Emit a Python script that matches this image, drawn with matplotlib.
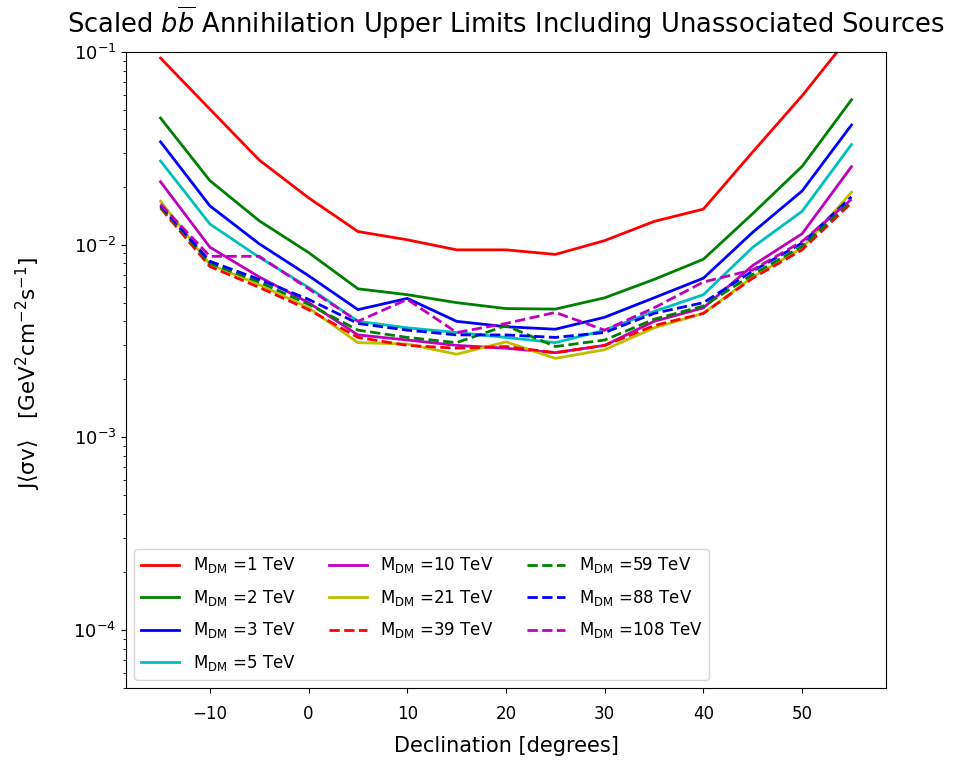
import matplotlib
matplotlib.use('Agg')
import matplotlib.pyplot as plt

# Declination grid (degrees)
dec = [-15, -10, -5, 0, 5, 10, 15, 20, 25, 30, 35, 40, 45, 50, 55]

# Scaled upper limits
ul_1 = [0.093, 0.0505, 0.0275, 0.0175, 0.0117, 0.0106, 0.0094, 0.0094, 0.0089, 0.0105, 0.0132, 0.0153, 0.0303, 0.0593, 0.124]
ul_2 = [0.0454, 0.0215, 0.0133, 0.0091, 0.0059, 0.0055, 0.0050, 0.00466, 0.00463, 0.0053, 0.0066, 0.0084, 0.0145, 0.0255, 0.0565]
ul_3 = [0.0342, 0.0159, 0.0101, 0.0069, 0.0046, 0.00526, 0.0040, 0.00375, 0.00364, 0.0042, 0.0053, 0.0067, 0.0116, 0.019, 0.0418]
ul_5 = [0.0272, 0.0128, 0.0086, 0.0060, 0.0040, 0.0037, 0.0035, 0.0033, 0.0031, 0.0036, 0.0045, 0.0055, 0.0097, 0.0149, 0.0331]
ul_10 = [0.0212, 0.0097, 0.0068, 0.0050, 0.0034, 0.0032, 0.0030, 0.0029, 0.00275, 0.0030, 0.0040, 0.0047, 0.0078, 0.0114, 0.0254]
ul_21 = [0.0168, 0.0079, 0.0062, 0.0047, 0.0031, 0.00305, 0.0027, 0.00313, 0.00257, 0.00285, 0.0037, 0.0044, 0.0068, 0.0096, 0.0187]
ul_39 = [0.0155, 0.0077, 0.0060, 0.0046, 0.0033, 0.0030, 0.0029, 0.00296, 0.00275, 0.0030, 0.0038, 0.0044, 0.0067, 0.0094, 0.0165]
ul_59 = [0.0158, 0.0080, 0.0064, 0.0049, 0.0036, 0.0033, 0.0031, 0.0038, 0.00296, 0.0032, 0.0041, 0.0048, 0.0070, 0.0098, 0.0170]
ul_88 = [0.0160, 0.0082, 0.0066, 0.0052, 0.0039, 0.0036, 0.0034, 0.0034, 0.0033, 0.0035, 0.0044, 0.0050, 0.0073, 0.0102, 0.0177]
ul_108 = [0.0162, 0.0087, 0.0087, 0.0059, 0.0040, 0.0052, 0.0035, 0.0039, 0.00445, 0.0036, 0.0047, 0.0064, 0.0074, 0.0104, 0.0172]

masses = [1, 2, 3, 5, 10, 21, 39, 59, 88, 108]
limits = [ul_1, ul_2, ul_3, ul_5, ul_10, ul_21, ul_39, ul_59, ul_88, ul_108]
colors = ['r', 'g', 'b', 'c', 'm', 'y', 'r', 'g', 'b', 'm']
styles = ['-', '-', '-', '-', '-', '-', '--', '--', '--', '--']

fig, ax = plt.subplots(figsize=(9.73, 7.65), dpi=100)
fig.subplots_adjust(left=0.1295, right=0.9106, top=0.932, bottom=0.1007)

for m, ul, c, ls in zip(masses, limits, colors, styles):
    ax.plot(dec, ul, color=c, linestyle=ls, linewidth=2,
            label=r'M$_{\rm DM}$ =' + str(m) + ' TeV')

ax.set_yscale('log')
ax.set_ylim(5e-5, 1e-1)
ax.set_xlim(-18.5, 58.5)
ax.tick_params(axis='x', labelsize=12, pad=8.5)
ax.tick_params(axis='y', labelsize=13)

ax.set_title(r'Scaled $b\overline{b}$ Annihilation Upper Limits Including Unassociated Sources',
             fontsize=18.5, pad=14)
ax.set_xlabel('Declination [degrees]', fontsize=15)
ax.xaxis.set_label_coords(0.5, -0.075)
ax.set_ylabel(r'J$\langle$σv$\rangle$   [GeV$^2$cm$^{-2}$s$^{-1}$]', fontsize=15.5)
ax.yaxis.set_label_coords(-0.109, 0.495)
ax.legend(loc='lower left', ncol=3, fontsize=12, handlelength=2.3,
          labelspacing=0.75, columnspacing=2.0)

plt.savefig('out.png', dpi=100)
